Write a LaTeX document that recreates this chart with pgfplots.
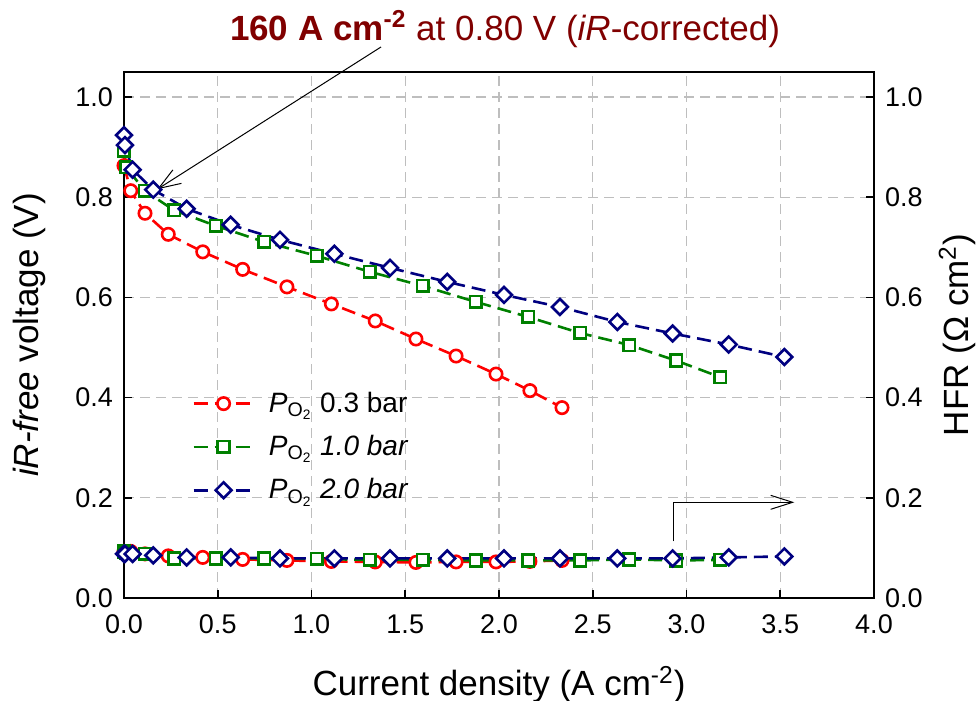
\documentclass[border=0pt]{standalone}
\usepackage{fontspec}
\setmainfont{Liberation Sans}
\usepackage{pgfplots}
\pgfplotsset{compat=1.18}
\usetikzlibrary{arrows.meta}

\definecolor{cRed}{RGB}{255,0,0}
\definecolor{cGreen}{RGB}{0,128,0}
\definecolor{cBlue}{RGB}{0,0,128}
\definecolor{cTitle}{RGB}{128,0,0}
\definecolor{cGrid}{RGB}{190,190,190}

\newcommand{\PO}{\textit{P}\textsubscript{O\textsubscript{2}}}

\pgfplotsset{
  base/.style={
    scale only axis, width=375pt, height=263pt,
    at={(0,0)}, anchor=south west,
    xmin=0, xmax=4, ymin=0, ymax=1.05,
    tick align=inside, major tick length=4pt,
    axis line style={line width=0.8pt},
    tick style={line width=0.8pt, black},
    ticklabel style={font=\fontsize{13.5}{15}\selectfont},
    ytick={0,0.2,...,1.0},
    clip=false,
    /pgf/number format/.cd, fixed, fixed zerofill, precision=1, assume math mode=true,
  },
  ser/.style={line width=1.3pt, dash pattern=on 7pt off 3.5pt,
    mark options={solid, fill=white, line width=1.3pt}},
  sred/.style={ser, color=cRed, mark=*, mark size=3.1pt},
  sgreen/.style={ser, color=cGreen, mark=square*, mark size=2.9pt},
  sblue/.style={ser, color=cBlue, mark=square*, mark size=2.8pt,
    mark options={solid, fill=white, line width=1.3pt, rotate=45}},
}

\begin{document}
\begin{tikzpicture}
\useasboundingbox (-62pt,-51.5pt) rectangle (426pt,299pt);

% left axis: iR-free voltage
\begin{axis}[base,
  xtick={0,0.5,...,4.0}, xtick pos=bottom, ytick pos=left,
  xticklabel style={yshift=-5pt}, yticklabel style={xshift=-2pt},
  grid=major, grid style={cGrid, line width=0.6pt, dash pattern=on 5pt off 3pt},
  xlabel={Current density (A cm\textsuperscript{-2})},
  ylabel={\textit{iR-free} voltage (V)},
  label style={font=\fontsize{17.5}{19}\selectfont},
  xlabel style={at={(axis description cs:0.5,-0.165)}, anchor=center},
  ylabel style={at={(axis description cs:-0.126,0.5)}, anchor=center},
  legend style={draw=none, fill=none, at={(axis cs:0.33,0.428)}, anchor=north west,
    font=\fontsize{14}{16}\selectfont, row sep=6pt},
  legend cell align=left,
  legend image code/.code={
    \draw[mark repeat=2, mark phase=2] plot coordinates {(0pt,0pt) (15pt,0pt) (30pt,0pt)};},
  /tikz/every odd column/.append style={column sep=5pt},
]
\addplot[sred] coordinates {
  (0.000,0.863) (0.036,0.813) (0.112,0.768) (0.236,0.726) (0.420,0.691)
  (0.633,0.656) (0.869,0.621) (1.106,0.587) (1.340,0.553) (1.557,0.517)
  (1.771,0.483) (1.984,0.447) (2.165,0.414) (2.336,0.380)};
\addlegendentry{\PO\ 0.3 bar}
\addplot[sgreen] coordinates {
  (0.000,0.893) (0.012,0.860) (0.110,0.813) (0.267,0.774) (0.489,0.743)
  (0.747,0.711) (1.028,0.683) (1.312,0.651) (1.593,0.623) (1.877,0.591)
  (2.156,0.561) (2.432,0.529) (2.695,0.505) (2.944,0.474) (3.179,0.441)};
\addlegendentry{\PO\ \textit{1.0 bar}}
\addplot[sblue] coordinates {
  (0.000,0.924) (0.005,0.904) (0.046,0.855) (0.156,0.815) (0.334,0.777)
  (0.569,0.745) (0.832,0.715) (1.122,0.687) (1.419,0.659) (1.724,0.631)
  (2.027,0.605) (2.325,0.581) (2.631,0.551) (2.926,0.528) (3.225,0.506)
  (3.522,0.481)};
\addlegendentry{\PO\ \textit{2.0 bar}}

% annotation
\node[font=\fontsize{17.5}{19}\selectfont, text=cTitle] at (axis description cs:0.508,1.082)
  {{\bfseries 160 A cm\textsuperscript{-2}} at 0.80 V (\textit{iR}-corrected)};
\draw[line width=0.5pt, -{Straight Barb[length=11pt, width=8pt]}]
  (axis cs:1.371,1.100) -- (axis cs:0.178,0.816);
\draw[line width=0.5pt, -{Straight Barb[length=11pt, width=7pt]}]
  (axis cs:2.933,0.113) -- (axis cs:2.933,0.191) -- (axis cs:3.575,0.191);
\end{axis}

% right axis: HFR
\begin{axis}[base,
  axis x line=none, axis y line*=right, ytick pos=right,
  yticklabel style={xshift=2pt},
  ylabel={HFR (Ω cm\textsuperscript{2})},
  label style={font=\fontsize{17.5}{19}\selectfont},
  ylabel style={at={(axis description cs:1.111,0.5)}, anchor=center},
]
\addplot[sred] coordinates {
  (0.000,0.093) (0.036,0.093) (0.112,0.088) (0.236,0.084) (0.420,0.081)
  (0.633,0.077) (0.869,0.075) (1.106,0.073) (1.340,0.072) (1.557,0.071)
  (1.771,0.072) (1.984,0.072) (2.165,0.073) (2.336,0.075)};
\addplot[sgreen] coordinates {
  (0.000,0.093) (0.012,0.090) (0.110,0.088) (0.267,0.079) (0.489,0.079)
  (0.747,0.079) (1.028,0.078) (1.312,0.076) (1.593,0.076) (1.877,0.075)
  (2.156,0.075) (2.432,0.075) (2.695,0.077) (2.944,0.075) (3.179,0.076)};
\addplot[sblue] coordinates {
  (0.000,0.088) (0.005,0.088) (0.046,0.088) (0.156,0.085) (0.334,0.081)
  (0.569,0.081) (0.832,0.079) (1.122,0.079) (1.419,0.079) (1.724,0.079)
  (2.027,0.079) (2.325,0.079) (2.631,0.079) (2.926,0.079) (3.225,0.081)
  (3.522,0.083)};
\end{axis}
\end{tikzpicture}
\end{document}
